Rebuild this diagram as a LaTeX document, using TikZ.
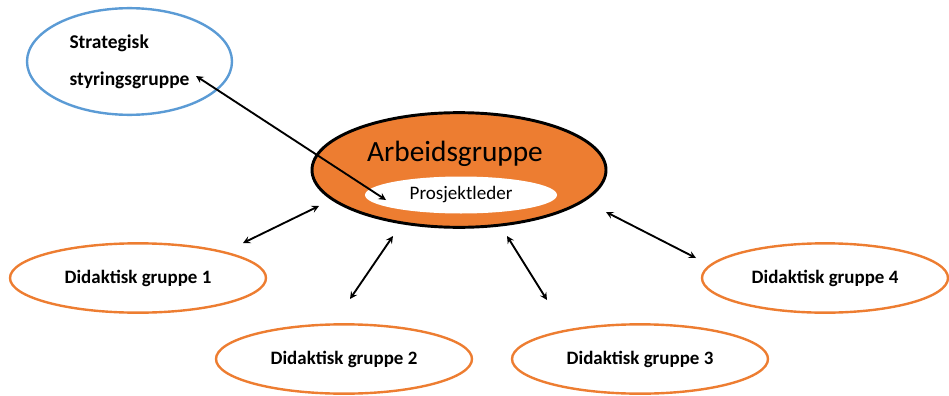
\documentclass[tikz,border=0pt]{standalone}
\usepackage{fontspec}
\setmainfont{Carlito}
\usetikzlibrary{shapes.geometric}
\usetikzlibrary{arrows, positioning}
\definecolor{wordblue}{HTML}{5B9BD5}
\definecolor{wordorange}{HTML}{ED7D31}

\begin{document}
\begin{tikzpicture}[
			x=0.75pt, y=-0.75pt,
			every node/.style={
					ellipse,
					inner sep=0pt
				},
			gruppe/.style={
					draw=wordorange,
					line width=1.8pt,
					minimum width=192pt,   % Width of the group ellipse
					minimum height=52pt,
					font=\fontsize{14.2}{17}\selectfont\bfseries
				},
			pil/.style={<->, >=stealth, line width=1.4pt}
		]
		\useasboundingbox (0,0) rectangle (949,396);

		\node[
			draw=wordblue,
			line width=1.8pt,
			minimum width=153.75pt,
			minimum height=80pt,
			align=left,
			font=\fontsize{14.6}{17}\selectfont\bfseries
		] (styring) at (129.5,61.5) {Strategisk\\[10.5pt]styringsgruppe};

		\node[
			draw=black,
			fill=wordorange,
			line width=2.2pt,
			minimum width=220.5pt,
			minimum height=86pt
		] (arbeid) at (459,170) {};
		\node[font=\fontsize{22}{26}\selectfont] (arbeidtxt) at (455,154) {Arbeidsgruppe};
		\node[
			fill=white,
			minimum width=144pt,
			minimum height=27.75pt,
			font=\fontsize{14.3}{17}\selectfont
		] (leder) at (461,195) {Prosjektleder};

		\node[gruppe] (g1) at (138,278) {Didaktisk gruppe 1};
		\node[gruppe] (g2) at (344,359) {Didaktisk gruppe 2};
		\node[gruppe] (g3) at (640,359) {Didaktisk gruppe 3};
		\node[gruppe, minimum width=184.5pt] (g4) at (825,278) {Didaktisk gruppe 4};

		% free ends of the arrows
		\coordinate (s1) at (196,76);
		\coordinate (s2) at (386,200);
		\coordinate (a1) at (243,243);
		\coordinate (b1) at (319,206);
		\coordinate (a2) at (350,299);
		\coordinate (b2) at (393,236);
		\coordinate (a3) at (507,236);
		\coordinate (b3) at (547,300);
		\coordinate (a4) at (606,212);
		\coordinate (b4) at (696,258);

		\draw[pil] (s1) -- (s2);
		\draw[pil] (a1) -- (b1);
		\draw[pil] (a2) -- (b2);
		\draw[pil] (a3) -- (b3);
		\draw[pil] (a4) -- (b4);
	\end{tikzpicture}
\end{document}
